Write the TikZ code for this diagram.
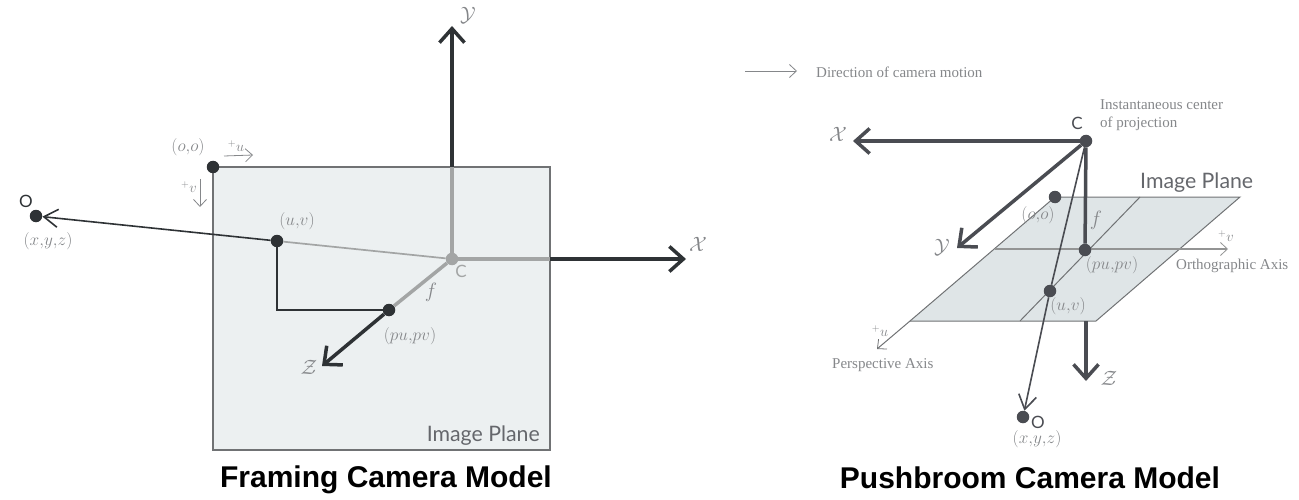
\documentclass[tikz,border=0pt]{standalone}
\usepackage{fontspec}
\setmainfont{Liberation Serif}
\newfontfamily\lightsans{Lato}
\newfontfamily\titlesans{Liberation Sans}
\usetikzlibrary{arrows.meta}
\definecolor{inkL}{HTML}{2E3235}
\definecolor{inkR}{HTML}{4A4C52}
\definecolor{fade}{HTML}{A3A5A5}
\definecolor{planeL}{HTML}{ECF0F1}
\definecolor{planeR}{HTML}{DFE5E7}
\definecolor{edge}{HTML}{707274}
\definecolor{lab}{HTML}{85878A}
\tikzset{
 x=1pt,y=-1pt,
 dotL/.style={circle,fill=inkL,inner sep=0pt,minimum size=12.5pt},
 dotR/.style={circle,fill=inkR,inner sep=0pt,minimum size=12.5pt},
 dotC/.style={circle,fill=fade,inner sep=0pt,minimum size=12.5pt},
 pt/.style={inner sep=0pt,minimum size=0pt},
 thickaxis/.style={line width=3.5pt},
 headbig/.style={-{Straight Barb[length=14pt,width=25pt,line width=3.5pt]}},
 headthin/.style={-{Straight Barb[length=14pt,width=18pt,line width=1.6pt]}},
 headsmall/.style={-{Straight Barb[length=7pt,width=13pt,line width=.8pt]}},
 mathlab/.style={text=lab,inner sep=0pt,font=\fontsize{16.5}{16.5}\selectfont},
 oolab/.style={text=lab,inner sep=0pt,font=\fontsize{19}{19}\selectfont},
 flab/.style={text=lab,inner sep=0pt,font=\fontsize{20}{20}\selectfont},
 smalllab/.style={text=lab,inner sep=0pt,font=\fontsize{14}{14}\selectfont},
 serlab/.style={text=lab,inner sep=0pt,font=\fontsize{15}{15}\selectfont},
 axislab/.style={text=lab,inner sep=0pt,font=\fontsize{20}{20}\selectfont},
 sanslab/.style={inner sep=0pt,font=\lightsans\fontsize{17}{17}\selectfont},
 planelab/.style={text=inkR!85,inner sep=0pt,font=\lightsans\fontsize{21.3}{21.3}\selectfont},
 titlelab/.style={text=black,inner sep=0pt,anchor=base,font=\titlesans\bfseries\fontsize{30}{30}\selectfont},
}
\begin{document}
\begin{tikzpicture}
\useasboundingbox (0,0) rectangle (1299,500);
% ---------- left
\fill[planeL] (213,167) rectangle (550,450);
\draw[edge,line width=1.1pt] (213,167) rectangle (550,450);
\node[dotL] (o0) at (213,167) {};
\node[dotL] (Ol) at (36,216) {};
\node[dotL] (uvl) at (277,241) {};
\node[dotL] (ppl) at (389,310) {};
\node[dotC] (Cl) at (452,259) {};
\coordinate (yedge) at (452,167);
\coordinate (ytip) at (452,26);
\coordinate (xedge) at (550,259);
\coordinate (xtip) at (686,259);
\coordinate (ztip) at (322,366);
\coordinate (crn) at (277,310);
\coordinate (uS) at (224,156);
\coordinate (uE) at (253,155);
\coordinate (vS) at (200,179);
\coordinate (vE) at (200,207);
\draw[fade,line width=1.7pt] (uvl) -- (Cl);
\draw[fade,line width=3.5pt] (Cl) -- (yedge);
\draw[fade,line width=3.5pt] (Cl) -- (xedge);
\draw[fade,line width=3.5pt] (Cl) -- (ppl);
\draw[inkL,thickaxis,headbig] (yedge) -- (ytip);
\draw[inkL,thickaxis,headbig] (xedge) -- (xtip);
\draw[inkL,thickaxis,headbig] (ppl) -- (ztip);
\draw[inkL,line width=1.6pt,headthin] (uvl) -- (Ol);
\draw[inkL,line width=1.6pt] (uvl) -- (crn) -- (ppl);
\draw[lab,line width=.8pt,headsmall] (uS) -- (uE);
\draw[lab,line width=.8pt,headsmall] (vS) -- (vE);
\node[oolab] (l00) at (188,147) {$(o{,}o)$};
\node[smalllab] (lu) at (236,146) {$^{+}u$};
\node[smalllab] (lv) at (189,187) {$^{+}v$};
\node[sanslab,text=inkL] (lO) at (26,201) {O};
\node[mathlab] (lxyz) at (48,241) {$(x{,}y{,}z)$};
\node[mathlab] (luv) at (297,221) {$(u{,}v)$};
\node[sanslab,text=fade] (lC) at (461,271) {C};
\node[flab] (lf) at (431,292) {$f$};
\node[mathlab] (lpp) at (410,336) {$(pu{,}pv)$};
\node[axislab] (lZ) at (309,367) {$\mathcal{Z}$};
\node[axislab] (lY) at (468,15) {$\mathcal{Y}$};
\node[axislab] (lX) at (698,244) {$\mathcal{X}$};
\node[planelab,anchor=east] (lIP) at (540,436) {Image Plane};
\node[titlelab] (lT) at (386,487) {Framing Camera Model};
% ---------- right
\coordinate (dS) at (745,71);
\coordinate (dE) at (797,71);
\draw[lab,line width=.8pt,headsmall] (dS) -- (dE);
\node[serlab,anchor=west] (ld) at (816,72) {Direction of camera motion};
\fill[planeR] (1055,197) -- (1240,197) -- (1096,321) -- (910,321) -- cycle;
\coordinate (p1) at (1055,197);
\coordinate (p2) at (1240,197);
\coordinate (p3) at (1096,321);
\coordinate (p4) at (910,321);
\coordinate (m1) at (1140,197);
\coordinate (m2) at (1020,321);
\coordinate (aS) at (995,249);
\coordinate (aE) at (1228,249);
\coordinate (pE) at (877,349);
\draw[edge,line width=1pt] (p1) -- (p2) -- (p3) -- (p4);
\draw[edge,line width=1pt] (m1) -- (m2);
\draw[edge,line width=1pt,headsmall] (p4) -- (pE);
\draw[edge,line width=1pt] (p1) -- (p4);
\draw[fade!90!black,line width=1.2pt,headsmall] (aS) -- (aE);
\node[dotR] (Cr) at (1086,141) {};
\node[dotR] (o0r) at (1055,197) {};
\node[dotR] (ppr) at (1085,250) {};
\node[dotR] (uvr) at (1050,291) {};
\node[dotR] (Or) at (1023,417) {};
\coordinate (xr) at (853,141);
\coordinate (yr) at (957,248);
\coordinate (zS) at (1086,321);
\coordinate (zr) at (1086,381);
\draw[inkR,thickaxis,headbig] (Cr) -- (xr);
\draw[inkR,thickaxis,headbig] (Cr) -- (yr);
\draw[inkR,thickaxis] (Cr) -- (ppr);
\draw[inkR,thickaxis,headbig] (zS) -- (zr);
\draw[inkR,line width=1.6pt] (Cr) -- (uvr);
\draw[inkR,line width=1.6pt,headthin] (uvr) -- (Or);
\node[sanslab,text=inkR] (rC) at (1077,123) {C};
\node[serlab,anchor=west,align=left,font=\fontsize{15}{18}\selectfont] (rI) at (1100,115) {Instantaneous center\\of projection};
\node[axislab] (rX) at (838,134) {$\mathcal{X}$};
\node[axislab] (rY) at (942,247) {$\mathcal{Y}$};
\node[axislab] (rZ) at (1109,378) {$\mathcal{Z}$};
\node[planelab,anchor=west] (rIP) at (1140,183) {Image Plane};
\node[oolab] (r00) at (1038,215) {$(o{,}o)$};
\node[flab] (rf) at (1096,220) {$f$};
\node[mathlab] (rpp) at (1112,265) {$(pu{,}pv)$};
\node[mathlab] (ruv) at (1068,306) {$(u{,}v)$};
\node[smalllab] (rv) at (1226,236) {$^{+}v$};
\node[smalllab] (ru) at (880,331) {$^{+}u$};
\node[serlab,anchor=west] (rOA) at (1176,266) {Orthographic Axis};
\node[serlab,anchor=west] (rPA) at (832,365) {Perspective Axis};
\node[sanslab,text=inkR] (rO) at (1038,422) {O};
\node[mathlab] (rxyz) at (1037,439) {$(x{,}y{,}z)$};
\node[titlelab] (rT) at (1030,488) {Pushbroom Camera Model};
\end{tikzpicture}
\end{document}
